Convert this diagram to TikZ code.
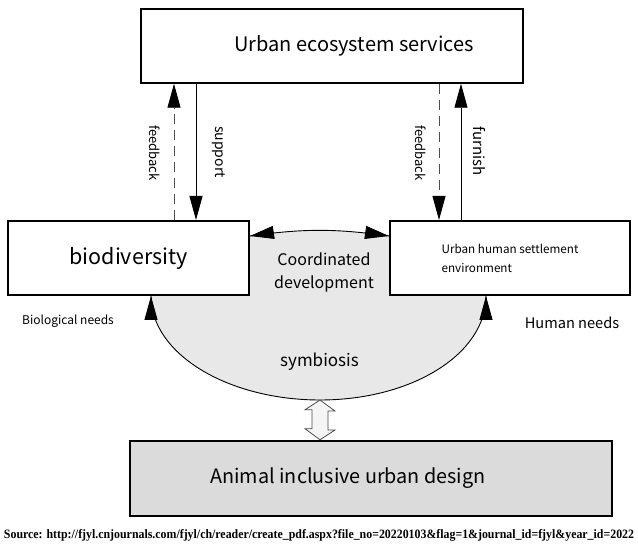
\documentclass[tikz,border=0pt]{standalone}
\usepackage{fontspec}
\setmainfont{Noto Sans CJK SC}
\newfontfamily\srcfont{Liberation Serif}
\usepackage{graphicx}
\usetikzlibrary{arrows.meta,backgrounds,calc}

\tikzset{
  box/.style={draw,line width=1.5pt,fill=white,inner sep=0pt},
  tip/.style={-{Triangle[length=24pt,width=13pt]}},
  fbline/.style={dash pattern=on 10pt off 6pt,black!70,
    -{Triangle[length=24pt,width=13pt,color=black]}},
  vlabel/.style={rotate=-90,inner sep=0pt}
}

\begin{document}
\begin{tikzpicture}
  [x=1pt,y=-1pt,line width=0.9pt]
  \useasboundingbox (0,0) rectangle (638,545);

  \node[box,minimum width=382pt,minimum height=74pt,
        label={[xshift=22pt,font=\fontsize{20}{24}\selectfont]center:Urban ecosystem services}] (serv) at (332,46) {};
  \node[box,line width=2pt,minimum width=241pt,minimum height=74pt,
        font=\fontsize{21.5}{26}\selectfont] (bio) at (128.5,258) {biodiversity};
  \node[box,line width=2pt,minimum width=240pt,minimum height=74pt,align=left,
        font=\fontsize{11.7}{19}\selectfont] (hab) at (510,258) {Urban human settlement\\environment};
  \node[box,line width=2.5pt,fill=black!14,minimum width=482pt,minimum height=75pt,
        label={[xshift=-23pt,font=\fontsize{19.8}{24}\selectfont]center:Animal inclusive urban design}] (des) at (371,478.5) {};

  \coordinate (fbl) at ($(bio.north west)+(167,0)$);
  \coordinate (sup) at ($(bio.north west)+(189,0)$);
  \coordinate (fbr) at ($(hab.north west)+(50,0)$);
  \coordinate (fur) at ($(hab.north west)+(72,0)$);

  \draw[fbline] (fbl) -- (fbl |- serv.south);
  \draw[tip] (sup |- serv.south) -- (sup);
  \draw[fbline] (fbr |- serv.south) -- (fbr);
  \draw[tip] (fur) -- (fur |- serv.south);

  \node[vlabel,font=\fontsize{13}{15}\selectfont] (fbl-t) at (155,153) {feedback};
  \node[vlabel,font=\fontsize{14}{16}\selectfont] (sup-t) at (219,152) {support};
  \node[vlabel,font=\fontsize{13}{15}\selectfont] (fbr-t) at (421,153) {feedback};
  \node[vlabel,font=\fontsize{15}{17}\selectfont] (fur-t) at (479,151) {furnish};

  \coordinate (cl) at ($(bio.north east)+(0,16)$);
  \coordinate (cr) at ($(hab.north west)+(0,16)$);
  \coordinate (nl) at ($(bio.south west)+(144,0)$);
  \coordinate (nr) at ($(hab.south west)+(97,0)$);
  \coordinate (symb) at (320,400);

  \begin{scope}[on background layer]
    \fill[black!9] (nl) .. controls +(0,58) and +(-92,0) .. (symb)
      .. controls +(92,0) and +(0,58) .. (nr) -- (nr |- cr) -- (cr)
      to[bend right=8] (cl) -- (nl |- cl) -- cycle;
  \end{scope}

  \draw (cl) to[bend left=8] (cr);
  \draw (nl) .. controls +(0,58) and +(-92,0) .. (symb)
    .. controls +(92,0) and +(0,58) .. (nr);
  \draw[tip] ($(cl)+(2,-0.3)$) -- (cl);
  \draw[tip] ($(cr)+(-2,-0.3)$) -- (cr);
  \draw[tip] ($(nl)+(0,2)$) -- (nl);
  \draw[tip] ($(nr)+(0,2)$) -- (nr);

  \draw[line width=0.8pt,draw=black!70,fill=black!4] (symb) -- ++(15,11) -- ++(-7,0)
    -- ++(0,19) -- ++(7,0) -- (symb |- des.north) -- ++(-15,-11) -- ++(7,0)
    -- ++(0,-19) -- ++(-7,0) -- cycle;

  \node[align=center,font=\fontsize{16}{23}\selectfont] (coord) at (324,272) {Coordinated\\development};
  \node[font=\fontsize{17}{20}\selectfont] (sym) at (319.5,362) {symbiosis};
  \node[font=\fontsize{12}{14}\selectfont] (bneed) at (68,321) {Biological needs};
  \node[font=\fontsize{14.6}{17}\selectfont] (hneed) at (572,323) {Human needs};

  \node[inner sep=0pt] (src) at (319,535) {\srcfont\bfseries\resizebox{630pt}{9pt}{Source: http://fjyl.cnjournals.com/fjyl/ch/reader/create\_pdf.aspx?file\_no=20220103\&flag=1\&journal\_id=fjyl\&year\_id=2022}};
\end{tikzpicture}
\end{document}
